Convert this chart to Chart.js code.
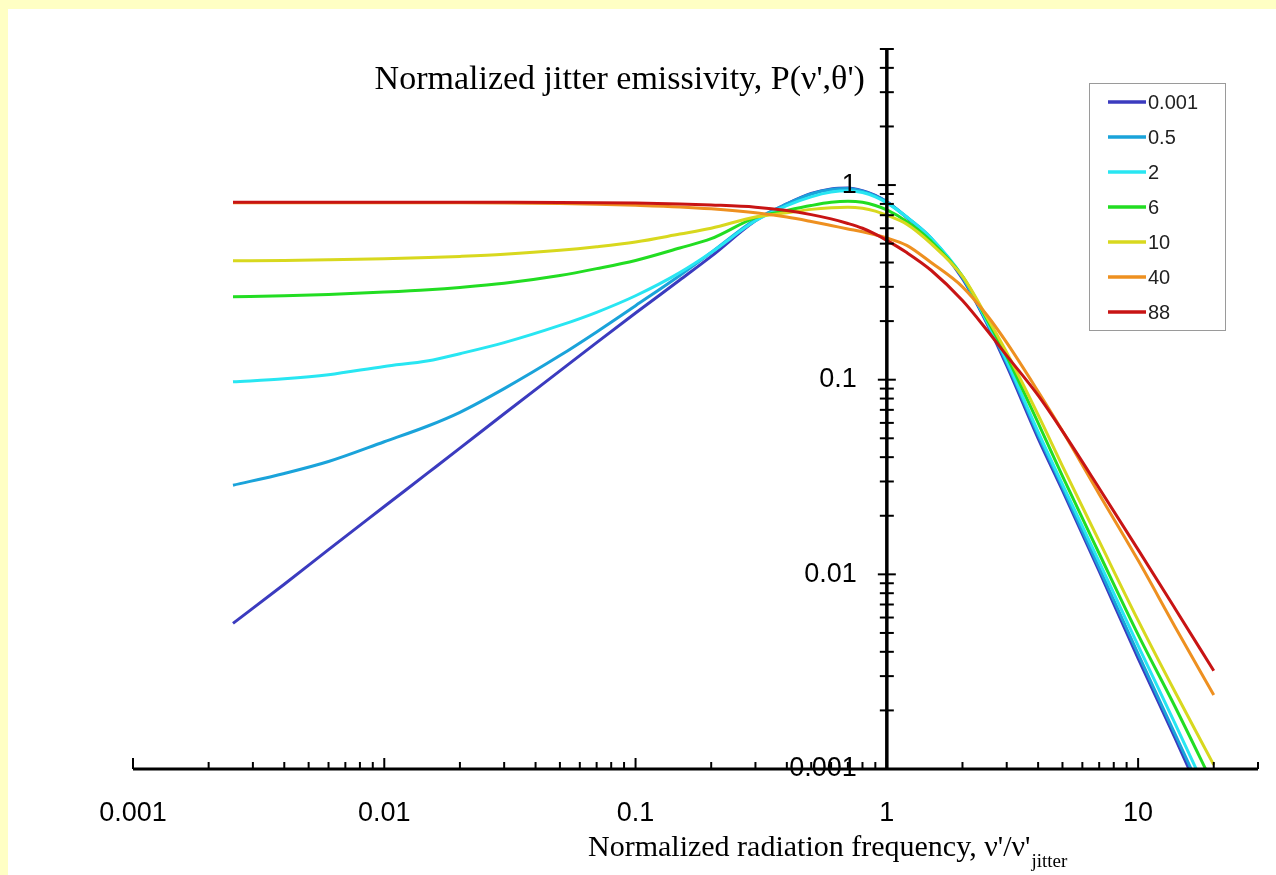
<!DOCTYPE html>
<html>
<head>
<meta charset="utf-8">
<title>Normalized jitter emissivity</title>
<script src="https://cdn.jsdelivr.net/npm/chart.js@4.4.0/dist/chart.umd.min.js"></script>
<style>
  html, body { margin: 0; padding: 0; background: #ffffc4; }
  #wrap { position: absolute; left: 0; top: 0; width: 1276px; height: 875px; }
</style>
</head>
<body>
<div id="wrap"><canvas id="jitterChart" width="1276" height="875"></canvas></div>
<script>
// Frecuencia normalizada (eje x)
const freq = [0.0025, 0.004, 0.006, 0.01, 0.015, 0.02, 0.03, 0.05, 0.07, 0.1, 0.15, 0.2, 0.3, 0.4, 0.5, 0.6, 0.7, 0.8, 0.9, 1, 1.2, 1.5, 2, 2.5, 3, 4, 5, 7, 10, 14, 20];

// Emisividad para cada angulo
const p0001 = [0.0056, 0.0089, 0.0134, 0.0223, 0.0334, 0.0445, 0.0668, 0.111, 0.155, 0.220, 0.325, 0.43, 0.655, 0.80, 0.905, 0.955, 0.965, 0.935, 0.885, 0.82, 0.68, 0.53, 0.33, 0.195, 0.118, 0.050, 0.027, 0.0104, 0.0037, 0.00145, 0.00052];
const p05   = [0.0287, 0.033, 0.038, 0.048, 0.058, 0.068, 0.090, 0.133, 0.176, 0.240, 0.343, 0.45, 0.665, 0.80, 0.90, 0.95, 0.96, 0.93, 0.88, 0.82, 0.685, 0.535, 0.335, 0.198, 0.122, 0.052, 0.028, 0.0108, 0.0039, 0.00152, 0.00056];
const p2    = [0.0975, 0.101, 0.106, 0.117, 0.125, 0.136, 0.155, 0.19, 0.222, 0.27, 0.355, 0.45, 0.655, 0.785, 0.87, 0.92, 0.935, 0.915, 0.87, 0.81, 0.685, 0.535, 0.34, 0.20, 0.125, 0.054, 0.029, 0.0116, 0.0043, 0.00172, 0.00064];
const p6    = [0.267, 0.270, 0.274, 0.282, 0.290, 0.298, 0.313, 0.343, 0.372, 0.41, 0.475, 0.53, 0.68, 0.74, 0.785, 0.815, 0.825, 0.815, 0.785, 0.745, 0.65, 0.515, 0.34, 0.205, 0.132, 0.060, 0.032, 0.0128, 0.0049, 0.0021, 0.00082];
const p10   = [0.408, 0.410, 0.413, 0.418, 0.424, 0.430, 0.441, 0.462, 0.482, 0.51, 0.56, 0.60, 0.685, 0.72, 0.75, 0.765, 0.77, 0.76, 0.735, 0.70, 0.63, 0.50, 0.34, 0.21, 0.138, 0.066, 0.036, 0.0148, 0.0058, 0.0025, 0.00105];
const p40   = [0.81, 0.81, 0.81, 0.81, 0.81, 0.81, 0.808, 0.803, 0.797, 0.787, 0.772, 0.755, 0.72, 0.685, 0.65, 0.62, 0.595, 0.575, 0.555, 0.535, 0.49, 0.40, 0.30, 0.215, 0.155, 0.087, 0.0545, 0.0258, 0.0118, 0.0054, 0.0024];
const p88   = [0.815, 0.815, 0.815, 0.815, 0.815, 0.815, 0.815, 0.814, 0.812, 0.808, 0.80, 0.79, 0.77, 0.74, 0.705, 0.67, 0.635, 0.60, 0.56, 0.52, 0.45, 0.365, 0.255, 0.18, 0.133, 0.083, 0.0544, 0.0277, 0.0134, 0.0067, 0.0032];

const thetaLabels = ["0.001", "0.5", "2", "6", "10", "40", "88"];
const seriesValues = [p0001, p05, p2, p6, p10, p40, p88];
const seriesColors = ["#3b3bbf", "#1aa3da", "#28e6f2", "#22dd22", "#d8d81e", "#ee9020", "#c81414"];

const xTickLabels = ["0.001", "0.01", "0.1", "1", "10"];
const yTickLabels = ["0.001", "0.01", "0.1", "1"];

// Ejes cruzados: eje y dibujado en x = 1, eje x en y = 0.001
const axesPlugin = {
  id: "jitterAxes",
  beforeDraw(chart) {
    const ctx = chart.ctx;
    ctx.save();
    ctx.fillStyle = "#ffffc4";
    ctx.fillRect(0, 0, chart.width, chart.height);
    ctx.fillStyle = "#ffffff";
    ctx.fillRect(8, 9, chart.width - 8, chart.height - 9);
    ctx.restore();
  },
  afterDatasetsDraw(chart) {
    const ctx = chart.ctx;
    const sx = chart.scales.x;
    const sy = chart.scales.y;
    const ax = sx.getPixelForValue(1);
    const ay = sy.getPixelForValue(0.001);
    const area = chart.chartArea;

    ctx.save();
    ctx.strokeStyle = "#000";
    ctx.fillStyle = "#000";

    // linea eje x
    ctx.lineWidth = 3;
    ctx.beginPath();
    ctx.moveTo(area.left, ay);
    ctx.lineTo(area.right, ay);
    ctx.stroke();

    // marcas eje x (hacia arriba)
    ctx.lineWidth = 2;
    for (let d = -3; d <= 1; d++) {
      for (let m = 1; m <= 9; m++) {
        const v = m * Math.pow(10, d);
        if (v > sx.max * 1.0001) continue;
        const px = sx.getPixelForValue(v);
        const len = m === 1 ? 11 : 7;
        ctx.beginPath();
        ctx.moveTo(px, ay);
        ctx.lineTo(px, ay - len);
        ctx.stroke();
      }
    }

    // linea eje y
    ctx.lineWidth = 3.5;
    ctx.beginPath();
    ctx.moveTo(ax, ay);
    ctx.lineTo(ax, area.top);
    ctx.stroke();

    // marcas eje y (cruzan la linea)
    ctx.lineWidth = 2;
    for (let d = -3; d <= 0; d++) {
      for (let m = 1; m <= 9; m++) {
        const v = m * Math.pow(10, d);
        if (v <= sy.min * 1.0001 || v > sy.max * 1.0001) continue;
        const py = sy.getPixelForValue(v);
        const half = m === 1 ? 9 : 7;
        ctx.beginPath();
        ctx.moveTo(ax - half, py);
        ctx.lineTo(ax + half, py);
        ctx.stroke();
      }
    }

    // etiquetas
    ctx.font = "27px 'Liberation Sans', Arial, sans-serif";
    ctx.textAlign = "center";
    ctx.textBaseline = "middle";
    xTickLabels.forEach(t => {
      ctx.fillText(t, sx.getPixelForValue(parseFloat(t)), ay + 45);
    });
    ctx.textAlign = "right";
    yTickLabels.forEach(t => {
      ctx.fillText(t, ax - 30, sy.getPixelForValue(parseFloat(t)));
    });

    // titulos
    ctx.font = "34px 'Liberation Serif', 'Times New Roman', serif";
    ctx.textAlign = "right";
    ctx.fillText("Normalized jitter emissivity, P(\u03bd',\u03b8')", ax - 22, 80);

    ctx.font = "30px 'Liberation Serif', 'Times New Roman', serif";
    ctx.textAlign = "left";
    const main = "Normalized radiation frequency, \u03bd'/\u03bd'";
    const startX = 588;
    ctx.fillText(main, startX, 848);
    const w = ctx.measureText(main).width;
    ctx.font = "19px 'Liberation Serif', 'Times New Roman', serif";
    ctx.fillText("jitter", startX + w + 1, 862);

    // leyenda
    const lx = 1089, ly = 83, lw = 136, lh = 247;
    ctx.fillStyle = "#fff";
    ctx.fillRect(lx, ly, lw, lh);
    ctx.strokeStyle = "#9a9a9a";
    ctx.lineWidth = 1;
    ctx.strokeRect(lx + 0.5, ly + 0.5, lw, lh);
    ctx.font = "20px 'Liberation Sans', Arial, sans-serif";
    ctx.textAlign = "left";
    chart.data.datasets.forEach((ds, i) => {
      const rowY = ly + 19 + i * 35;
      ctx.strokeStyle = ds.borderColor;
      ctx.lineWidth = 3.5;
      ctx.beginPath();
      ctx.moveTo(lx + 19, rowY);
      ctx.lineTo(lx + 57, rowY);
      ctx.stroke();
      ctx.fillStyle = "#222";
      ctx.fillText(ds.label, lx + 59, rowY + 1);
    });
    ctx.restore();
  }
};

const ctx = document.getElementById("jitterChart").getContext("2d");
new Chart(ctx, {
  type: "line",
  data: {
    datasets: seriesValues.map((vals, i) => ({
      label: thetaLabels[i],
      data: freq.map((f, j) => ({ x: f, y: vals[j] })),
      borderColor: seriesColors[i],
      backgroundColor: seriesColors[i],
      borderWidth: 3,
      pointRadius: 0,
      fill: false,
      cubicInterpolationMode: "monotone",
      order: seriesValues.length - i
    }))
  },
  options: {
    responsive: false,
    animation: false,
    devicePixelRatio: 1,
    layout: { padding: { left: 133, right: 18, top: 49, bottom: 106 } },
    plugins: { legend: { display: false }, tooltip: { enabled: false } },
    scales: {
      x: { type: "logarithmic", min: 0.001, max: 30, display: false },
      y: { type: "logarithmic", min: 0.001, max: 5, display: false }
    }
  },
  plugins: [axesPlugin]
});
</script>
</body>
</html>
